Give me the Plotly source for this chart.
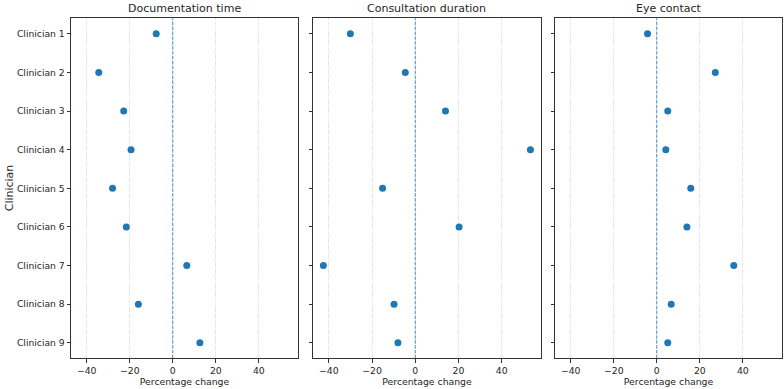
import plotly.graph_objects as go

clinicians = [f"Clinician {i}" for i in range(1, 10)]
panel_titles = ["Documentation time", "Consultation duration", "Eye contact"]
documentation_time = [-7.7, -34.4, -22.8, -19.4, -28.0, -21.6, 6.5, -16.0, 12.6]
consultation_duration = [-30.0, -4.6, 14.0, 53.3, -15.1, 20.3, -42.5, -9.8, -8.0]
eye_contact = [-4.3, 27.2, 5.1, 4.2, 15.8, 14.0, 35.8, 6.7, 5.1]
series = [documentation_time, consultation_duration, eye_contact]
x_ticks = [-40, -20, 0, 20, 40]
x_range = [-47.3, 58.2]

W, H = 784, 389
panel_px = [(71, 298), (313, 541), (555, 782)]
y_top, y_bot = 18.3, 358.3

FONT = "DejaVu Sans"
TXT = "#262626"

fig = go.Figure()
for k, vals in enumerate(series):
    xa = "x" if k == 0 else f"x{k+1}"
    ya = "y" if k == 0 else f"y{k+1}"
    fig.add_trace(go.Scatter(
        x=vals, y=list(range(len(clinicians))), mode="markers",
        marker=dict(color="#1f77b4", size=7, line=dict(width=0)),
        xaxis=xa, yaxis=ya, showlegend=False,
    ))
    x0, x1 = panel_px[k]
    xkey = "xaxis" if k == 0 else f"xaxis{k+1}"
    ykey = "yaxis" if k == 0 else f"yaxis{k+1}"
    fig.layout[xkey] = dict(
        domain=[x0 / W, x1 / W], anchor=ya, range=x_range, automargin=False,
        tickvals=x_ticks, ticktext=[str(t).replace("-", "−") for t in x_ticks],
        ticks="outside", ticklen=4, tickcolor="#333", tickwidth=1,
        showline=True, mirror=True, linecolor="#333", linewidth=1,
        showgrid=True, gridcolor="#e2e2e2", gridwidth=0.8, griddash="1.5px,0.8px",
        zeroline=False,
        tickfont=dict(family=FONT, size=9.3, color=TXT),
        title=dict(text="Percentage change", font=dict(family=FONT, size=9.3, color=TXT), standoff=3),
    )
    fig.layout[ykey] = dict(
        domain=[1 - y_bot / H, 1 - y_top / H], anchor=xa, automargin=False,
        range=[8.4, -0.4],
        tickvals=list(range(len(clinicians))), ticktext=clinicians,
        showticklabels=(k == 0),
        ticks="outside", ticklen=3.5, tickcolor="#333", tickwidth=1,
        showline=True, mirror=True, linecolor="#333", linewidth=1,
        showgrid=False, zeroline=False,
        tickfont=dict(family=FONT, size=9.2, color=TXT),
        ticklabelstandoff=0,
    )
    fig.add_shape(type="line", xref=xa, yref=f"{ya} domain", x0=0, x1=0, y0=0, y1=1,
                  line=dict(color="rgba(31,119,180,0.8)", width=1, dash="3.4px,1.5px"))
    fig.add_annotation(text=panel_titles[k], xref="paper", yref="paper",
                       x=(x0 + x1) / 2 / W, y=1 - 8.5 / H, showarrow=False,
                       xanchor="center", yanchor="middle",
                       font=dict(family=FONT, size=11, color=TXT))

fig.add_annotation(text="Clinician", xref="paper", yref="paper",
                   x=9 / W, y=1 - (y_top + y_bot) / 2 / H, showarrow=False,
                   textangle=-90, xanchor="center", yanchor="middle",
                   font=dict(family=FONT, size=11, color=TXT))

fig.update_layout(width=W, height=H, margin=dict(l=0, r=0, t=0, b=0, autoexpand=False),
                  paper_bgcolor="white", plot_bgcolor="white")
fig.write_html("out.html")
